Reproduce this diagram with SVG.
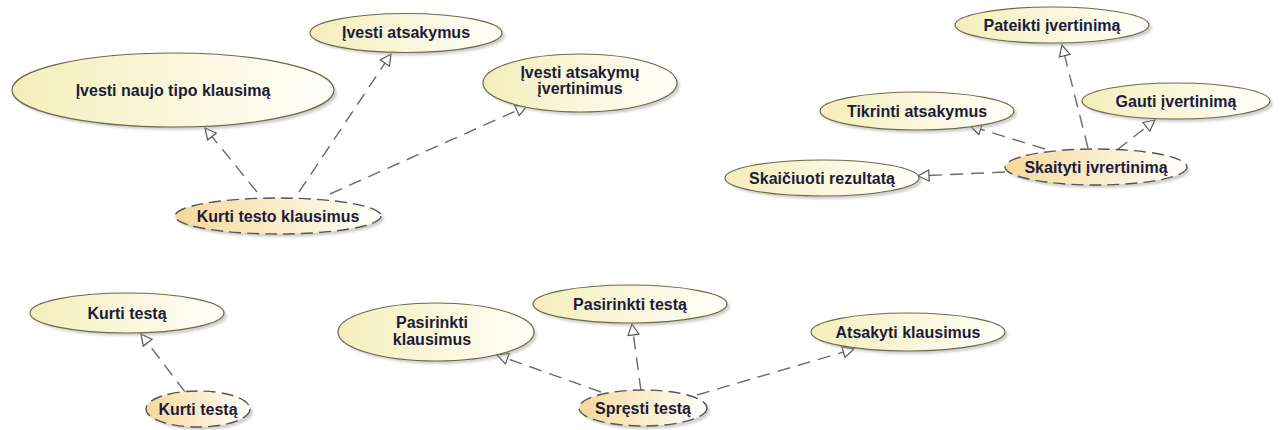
<svg xmlns="http://www.w3.org/2000/svg" width="1288" height="430" viewBox="0 0 1288 430">
<style>
.uc{fill:url(#gy);stroke:#6e6a45;stroke-width:1.2}
.ex{fill:url(#go);stroke:#555;stroke-width:1.4;stroke-dasharray:12,6}
.sh{fill:#9a9a9a;opacity:0.45;filter:url(#bl)}
text{font-family:"Liberation Sans",Arial,sans-serif;font-size:16px;font-weight:bold;fill:#1c1c3a;text-anchor:middle}
.c{fill:none;stroke:#6a6a6a;stroke-width:1.4;stroke-dasharray:13,8;marker-end:url(#ar)}
</style>
<defs>
<linearGradient id="gy" x1="0" y1="0" x2="1" y2="0"><stop offset="0" stop-color="#f4eebb"/><stop offset="1" stop-color="#fffffa"/></linearGradient>
<linearGradient id="go" x1="0" y1="0" x2="1" y2="0"><stop offset="0" stop-color="#f6d99a"/><stop offset="1" stop-color="#fffffa"/></linearGradient>
<filter id="bl" x="-10%" y="-20%" width="120%" height="140%"><feGaussianBlur stdDeviation="1.2"/></filter>
<marker id="ar" markerUnits="userSpaceOnUse" markerWidth="14" markerHeight="14" viewBox="0 0 14 14" refX="12" refY="7" orient="auto"><path d="M1,1.5 L12,7 L1,12.5 Z" fill="#fff" stroke="#555" stroke-width="1.2"/></marker>
</defs>
<rect width="1288" height="430" fill="#fff"/>

<g id="connectors">
<line class="c" x1="257" y1="192" x2="205" y2="128"/>
<line class="c" x1="299" y1="192" x2="391" y2="54"/>
<line class="c" x1="330" y1="194" x2="527" y2="106"/>
<line class="c" x1="1088" y1="148" x2="1062" y2="45"/>
<line class="c" x1="1117" y1="150" x2="1155" y2="120"/>
<line class="c" x1="1045" y1="149" x2="970" y2="126"/>
<line class="c" x1="1005" y1="172" x2="918" y2="176"/>
<line class="c" x1="185" y1="392" x2="141" y2="334"/>
<line class="c" x1="601" y1="392" x2="497" y2="355"/>
<line class="c" x1="641" y1="391" x2="632" y2="324"/>
<line class="c" x1="697" y1="395" x2="854" y2="349"/>
</g>

<g id="n1"><ellipse class="sh" cx="176" cy="93" rx="161" ry="37"/><ellipse class="uc" cx="173" cy="90" rx="161" ry="37"/><text x="173" y="96">Įvesti naujo tipo klausimą</text></g>
<g id="n2"><ellipse class="sh" cx="409" cy="36" rx="96" ry="19.5"/><ellipse class="uc" cx="406" cy="33" rx="96" ry="19.5"/><text x="406" y="38">Įvesti atsakymus</text></g>
<g id="n3"><ellipse class="sh" cx="583" cy="86" rx="97" ry="29"/><ellipse class="uc" cx="580" cy="83" rx="97" ry="29"/><text x="580" y="78">Įvesti atsakymų</text><text x="580" y="94">įvertinimus</text></g>
<g id="n4"><ellipse class="sh" cx="281" cy="219" rx="103" ry="18"/><ellipse class="ex" cx="278" cy="216" rx="103" ry="18"/><text x="278" y="222">Kurti testo klausimus</text></g>

<g id="n5"><ellipse class="sh" cx="1055" cy="28" rx="97" ry="18"/><ellipse class="uc" cx="1052" cy="25" rx="97" ry="18"/><text x="1052" y="31">Pateikti įvertinimą</text></g>
<g id="n6"><ellipse class="sh" cx="1179" cy="104" rx="94" ry="18"/><ellipse class="uc" cx="1176" cy="101" rx="94" ry="18"/><text x="1176" y="107">Gauti įvertinimą</text></g>
<g id="n7"><ellipse class="sh" cx="920" cy="114" rx="97" ry="19"/><ellipse class="uc" cx="917" cy="111" rx="97" ry="19"/><text x="917" y="117">Tikrinti atsakymus</text></g>
<g id="n8"><ellipse class="sh" cx="1099" cy="170" rx="91" ry="18"/><ellipse class="ex" cx="1096" cy="167" rx="91" ry="18"/><text x="1096" y="173">Skaityti įvrertinimą</text></g>
<g id="n9"><ellipse class="sh" cx="825" cy="181" rx="97" ry="18"/><ellipse class="uc" cx="822" cy="178" rx="97" ry="18"/><text x="822" y="184">Skaičiuoti rezultatą</text></g>

<g id="n10"><ellipse class="sh" cx="130" cy="316" rx="97" ry="20"/><ellipse class="uc" cx="127" cy="313" rx="97" ry="20"/><text x="127" y="319">Kurti testą</text></g>
<g id="n11"><ellipse class="sh" cx="201" cy="412" rx="52" ry="18"/><ellipse class="ex" cx="198" cy="409" rx="52" ry="18"/><text x="198" y="415">Kurti testą</text></g>

<g id="n12"><ellipse class="sh" cx="439" cy="335" rx="98" ry="29"/><ellipse class="uc" cx="436" cy="332" rx="98" ry="29"/><text x="432" y="328">Pasirinkti</text><text x="432" y="345">klausimus</text></g>
<g id="n13"><ellipse class="sh" cx="633" cy="307" rx="97" ry="19"/><ellipse class="uc" cx="630" cy="304" rx="97" ry="19"/><text x="630" y="310">Pasirinkti testą</text></g>
<g id="n14"><ellipse class="sh" cx="646" cy="411" rx="64" ry="18"/><ellipse class="ex" cx="643" cy="408" rx="64" ry="18"/><text x="643" y="414">Spręsti testą</text></g>
<g id="n15"><ellipse class="sh" cx="911" cy="335" rx="97" ry="19"/><ellipse class="uc" cx="908" cy="332" rx="97" ry="19"/><text x="908" y="338">Atsakyti klausimus</text></g>
</svg>
